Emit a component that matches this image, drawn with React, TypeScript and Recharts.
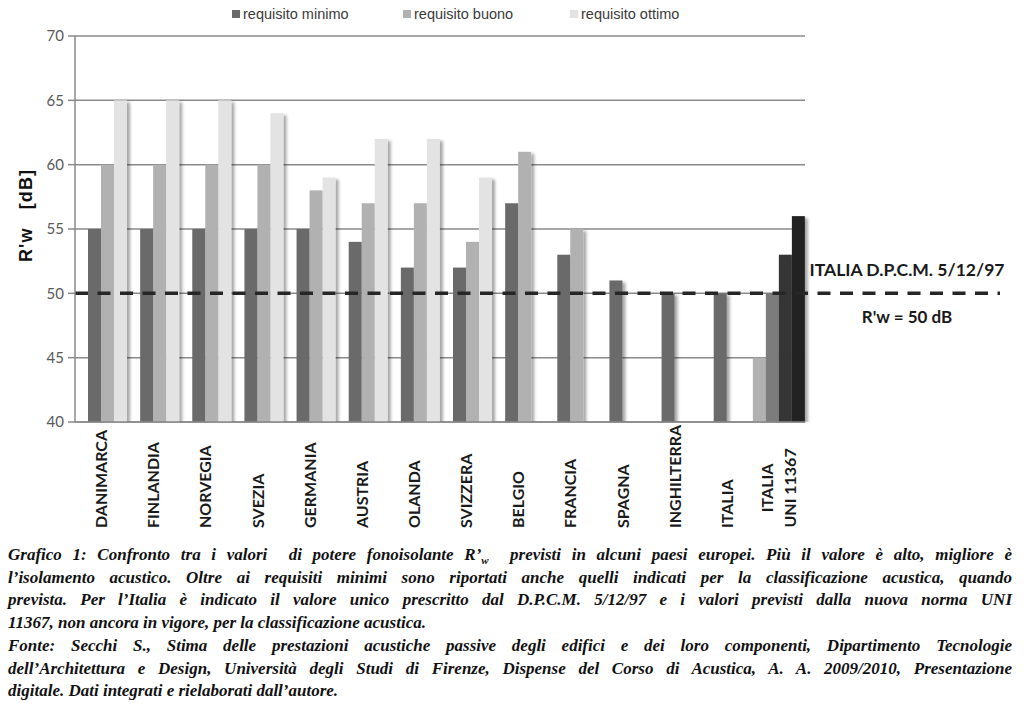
import React from 'react';
import { BarChart, Bar, XAxis, YAxis, CartesianGrid, ReferenceLine } from 'recharts';

const categories = [
  'DANIMARCA', 'FINLANDIA', 'NORVEGIA', 'SVEZIA', 'GERMANIA', 'AUSTRIA', 'OLANDA',
  'SVIZZERA', 'BELGIO', 'FRANCIA', 'SPAGNA', 'INGHILTERRA', 'ITALIA', 'ITALIA\nUNI 11367',
];
const requisitoMinimo = [55, 55, 55, 55, 55, 54, 52, 52, 57, 53, 51, 50, 50, null];
const requisitoBuono = [60, 60, 60, 60, 58, 57, 57, 54, 61, 55, null, null, null, null];
const requisitoOttimo = [65, 65, 65, 64, 59, 62, 62, 59, null, null, null, null, null, null];
const uniCategory = 'ITALIA\nUNI 11367';
const uniClassi = [45, 50, 53, 56];
const seriesNames = ['requisito minimo', 'requisito buono', 'requisito ottimo'];
const seriesColors = ['#6a6a6a', '#b1b1b1', '#e3e3e3'];
const uniColors = ['#b1b1b1', '#7b7b7b', '#353535', '#222222'];
const yTicks = [40, 45, 50, 55, 60, 65, 70];
const limiteDPCM = 50;
const refLabelTop = 'ITALIA D.P.C.M. 5/12/97';
const refLabelBottom = "R'w = 50 dB";
const yLabel = "R'w   [dB]";

const data = categories.map((cat, i) => {
  const isUni = cat === uniCategory;
  return {
    cat,
    isUni,
    s0: isUni ? uniClassi[0] : null,
    s1: isUni ? uniClassi[1] : requisitoMinimo[i],
    s2: isUni ? uniClassi[2] : requisitoBuono[i],
    s3: isUni ? uniClassi[3] : requisitoOttimo[i],
  };
});

const makeShape = (k: number) => (p: any) => {
  if (p == null || p.height == null || !(p.height > 0) || isNaN(p.y)) return <g />;
  const isUni = p.payload && p.payload.isUni;
  const fill = isUni ? uniColors[k] : seriesColors[k - 1];
  if (!fill) return <g />;
  return (
    <rect x={p.x} y={p.y} width={p.width} height={p.height} fill={fill} filter="url(#barShadow)" />
  );
};

const CatTick = (props: any) => {
  const { x, y, payload } = props;
  const lines = String(payload.value).split('\n');
  const common = {
    fontFamily: 'Lato, sans-serif',
    fontWeight: 700,
    fontSize: 16,
    fill: '#1a1a1a',
  } as any;
  const bottom = y + 98;
  if (lines.length === 1) {
    return (
      <text transform={`translate(${x + 6},${bottom}) rotate(-90)`} textAnchor="start" {...common}>
        {lines[0]}
      </text>
    );
  }
  const maxLen = Math.max(...lines.map((l) => l.length));
  const cy = bottom - (maxLen * 8.9) / 2;
  return (
    <g>
      {lines.map((l, i) => (
        <text
          key={i}
          transform={`translate(${x + 6 + (i - (lines.length - 1) / 2) * 23},${cy}) rotate(-90)`}
          textAnchor="middle"
          {...common}
        >
          {l}
        </text>
      ))}
    </g>
  );
};

const YLabel = (props: any) => {
  const vb = props.viewBox || {};
  const cx = (vb.x || 0) + 7;
  const cy = (vb.y || 0) + (vb.height || 0) / 2 - 13;
  return (
    <text
      transform={`translate(${cx},${cy}) rotate(-90)`}
      textAnchor="middle"
      fontFamily="'Liberation Sans', Arial, sans-serif"
      fontWeight={700}
      fontSize={18}
      fill="#111"
      textLength={92}
      lengthAdjust="spacing"
      style={{ whiteSpace: 'pre' }}
    >
      {yLabel}
    </text>
  );
};

const DpcmLine = (p: any) => {
  const { x1, y1, x2 } = p;
  const xEnd = x2 + 195;
  const cx = x2 + 102;
  const txt = {
    fontFamily: 'Lato, sans-serif',
    fontWeight: 700,
    fontSize: 17,
    fill: '#1a1a1a',
    textAnchor: 'middle',
  } as any;
  return (
    <g>
      <line x1={x1} y1={y1} x2={xEnd} y2={y1} stroke="#262626" strokeWidth={3.5} strokeDasharray="13 9.5" />
      <text x={cx} y={y1 - 17} {...txt} textLength={195} lengthAdjust="spacingAndGlyphs">
        {refLabelTop}
      </text>
      <text x={cx} y={y1 + 30} {...txt}>
        {refLabelBottom}
      </text>
    </g>
  );
};

const captionStyle: React.CSSProperties = {
  fontFamily: "'Liberation Serif', 'Times New Roman', serif",
  fontWeight: 700,
  fontStyle: 'italic',
  fontSize: 17,
  lineHeight: '22.7px',
  color: '#111',
  whiteSpace: 'nowrap',
};

const captionLines = [
  'l’isolamento acustico. Oltre ai requisiti minimi sono riportati anche quelli indicati per la classificazione acustica, quando',
  'prevista. Per l’Italia è indicato il valore unico prescritto dal D.P.C.M. 5/12/97 e i valori previsti dalla nuova norma UNI',
  '11367, non ancora in vigore, per la classificazione acustica.',
  'Fonte: Secchi S., Stima delle prestazioni acustiche passive degli edifici e dei loro componenti, Dipartimento Tecnologie',
  'dell’Architettura e Design, Università degli Studi di Firenze, Dispense del Corso di Acustica, A. A. 2009/2010, Presentazione',
  'digitale. Dati integrati e rielaborati dall’autore.',
];
const captionJustified = [true, true, false, true, true, false];
const legendItemWidths = [171, 167, 120];

export default function App() {
  return (
    <div style={{ position: 'absolute', left: 0, top: 0, width: 1024, height: 708, background: '#fff', overflow: 'hidden' }}>
      <svg width={0} height={0} style={{ position: 'absolute' }}>
        <defs>
          <filter id="barShadow" x="-40%" y="-10%" width="200%" height="125%">
            <feDropShadow dx={3} dy={2} stdDeviation={1.6} floodColor="#000" floodOpacity={0.35} />
          </filter>
        </defs>
      </svg>

      <div style={{ position: 'absolute', left: 0, top: 0 }}>
        <BarChart
          width={1024}
          height={540}
          data={data}
          margin={{ top: 36, right: 219, left: 25, bottom: 8 }}
          barGap={0}
          barCategoryGap={0}
        >
          <CartesianGrid vertical={false} stroke="#8a8a8a" strokeWidth={1.5} />
          <XAxis
            dataKey="cat"
            interval={0}
            tickLine={false}
            axisLine={{ stroke: '#8a8a8a', strokeWidth: 1.5 }}
            height={110}
            tick={<CatTick />}
          />
          <YAxis
            domain={[40, 70]}
            ticks={yTicks}
            interval={0}
            allowDataOverflow
            width={50}
            tickSize={7}
            tickMargin={4}
            axisLine={{ stroke: '#8a8a8a', strokeWidth: 1.5 }}
            tickLine={{ stroke: '#8a8a8a', strokeWidth: 1.5 }}
            tick={{ fill: '#595959', fontSize: 15, fontFamily: 'Lato, sans-serif' }}
            label={<YLabel />}
          />
          <Bar dataKey="s0" isAnimationActive={false} shape={makeShape(0)} />
          <Bar dataKey="s1" name={seriesNames[0]} isAnimationActive={false} shape={makeShape(1)} />
          <Bar dataKey="s2" name={seriesNames[1]} isAnimationActive={false} shape={makeShape(2)} />
          <Bar dataKey="s3" name={seriesNames[2]} isAnimationActive={false} shape={makeShape(3)} />
          <ReferenceLine y={limiteDPCM} ifOverflow="visible" shape={<DpcmLine />} />
        </BarChart>
      </div>

      <div
        style={{
          position: 'absolute',
          top: 6,
          left: 232,
          display: 'flex',
          alignItems: 'center',
          fontFamily: "'Liberation Sans', Arial, sans-serif",
          fontSize: 14.5,
          color: '#3a3a3a',
        }}
      >
        {seriesNames.map((n, i) => (
          <div key={n} style={{ display: 'flex', alignItems: 'center', width: legendItemWidths[i] }}>
            <div style={{ width: 8, height: 8, background: seriesColors[i], marginRight: 3 }} />
            <span>{n}</span>
          </div>
        ))}
      </div>

      <div style={{ position: 'absolute', top: 544, left: 8, width: 1004, ...captionStyle }}>
        <div style={{ textAlign: 'justify', textAlignLast: 'justify' } as any}>
          Grafico 1: Confronto tra i valori&nbsp; di potere fonoisolante R’
          <sub style={{ fontSize: 11, lineHeight: 0 }}>w</sub>&nbsp; previsti in alcuni paesi europei. Più il valore è alto, migliore è
        </div>
        {captionLines.map((l, i) => (
          <div
            key={i}
            style={{
              textAlign: captionJustified[i] ? 'justify' : 'left',
              textAlignLast: captionJustified[i] ? 'justify' : 'left',
            } as any}
          >
            {l}
          </div>
        ))}
      </div>
    </div>
  );
}
